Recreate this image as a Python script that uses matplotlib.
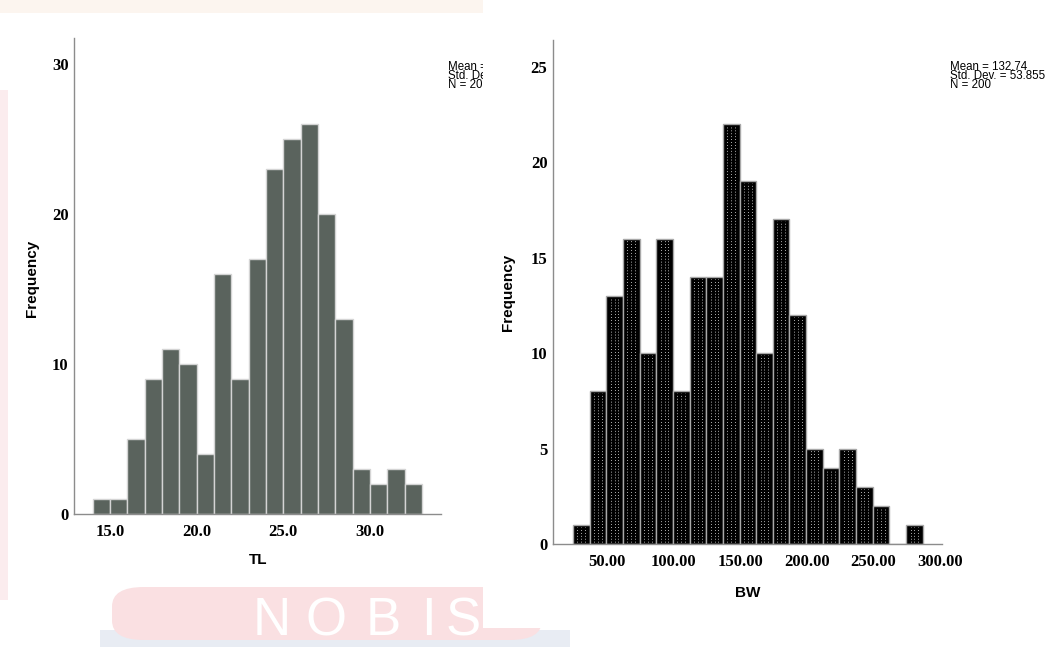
import numpy as np
import matplotlib.pyplot as plt
from matplotlib.patches import Rectangle, FancyBboxPatch

# TL histogram (bin width 1.0 starting at 14)
tl_edges = np.arange(14.0, 33.5, 1.0)
tl_counts = [1, 1, 5, 9, 11, 10, 4, 16, 9, 17, 23, 25, 26, 20, 13, 3, 2, 3, 2]
tl_ticks = [15.0, 20.0, 25.0, 30.0]
tl_yticks = [0, 10, 20, 30]

# BW histogram (bin width 12.5 starting at 24.5)
bw_edges = np.arange(24.5, 288.0, 12.5)
bw_counts = [1, 8, 13, 16, 10, 16, 8, 14, 14, 22, 19, 10, 17, 12, 5, 4, 5, 3, 2, 0, 1]
bw_ticks = [50, 100, 150, 200, 250, 300]
bw_yticks = [0, 5, 10, 15, 20, 25]

tl_stats = "Mean =\nStd. Dev. =\nN = 200"
bw_stats = "Mean = 132.74\nStd. Dev. = 53.855\nN = 200"

W, H = 1059, 647
fig = plt.figure(figsize=(W / 100, H / 100), dpi=100)
fig.patch.set_facecolor('white')

def fx(px):
    return px / W

def fy(py):
    return 1 - py / H

# faint watermark behind the two screenshots
fig.patches.append(Rectangle((0, fy(13)), fx(483), fy(0) - fy(13), transform=fig.transFigure,
                             facecolor='#fcf5ef', edgecolor='none', zorder=-3))
fig.patches.append(Rectangle((0, fy(600)), fx(8), fy(90) - fy(600), transform=fig.transFigure,
                             facecolor='#fbecee', edgecolor='none', zorder=-3))
fig.patches.append(Rectangle((fx(100), 0), fx(470), fy(630), transform=fig.transFigure,
                             facecolor='#e8ecf3', edgecolor='none', zorder=-3))
fig.patches.append(FancyBboxPatch((fx(112), fy(640)), fx(430), fy(587) - fy(640),
                                  boxstyle='round,pad=0,rounding_size=0.03',
                                  transform=fig.transFigure, facecolor='#fae0e2',
                                  edgecolor='none', zorder=-2.9))
for ch, px in zip("NOBIS", [253, 306, 366, 421, 446]):
    fig.text(fx(px), fy(635), ch, color='white', fontsize=38, family='Liberation Sans',
             ha='left', va='baseline', zorder=-2.8)

# white panel of the right screenshot
fig.patches.append(Rectangle((fx(483), fy(628)), 1 - fx(483), fy(0) - fy(628),
                             transform=fig.transFigure, facecolor='white',
                             edgecolor='none', zorder=-1))

tick_font = dict(family='Liberation Serif', weight='bold', size=12)
label_font = dict(family='Liberation Sans', weight='bold', size=11)

def style(ax):
    ax.set_facecolor('none')
    for s in ['top', 'right']:
        ax.spines[s].set_visible(False)
    for s in ['left', 'bottom']:
        ax.spines[s].set_color('#8c8c8c')
        ax.spines[s].set_linewidth(1.0)
    ax.tick_params(length=0)
    ax.tick_params(axis='x', pad=7)
    ax.tick_params(axis='y', pad=4)

# left: TL
ax1 = fig.add_axes([fx(74), fy(514), fx(440.7) - fx(74), fy(38) - fy(514)])
ax1.bar(tl_edges[:-1], tl_counts, width=np.diff(tl_edges), align='edge',
        color='#5a635d', edgecolor='#d4d4d4', linewidth=1.0)
ax1.set_xlim(12.92, 34.08)
ax1.set_ylim(0, 31.7)
ax1.set_xticks(tl_ticks)
ax1.set_xticklabels([f"{t:.1f}" for t in tl_ticks], fontdict=tick_font)
ax1.set_yticks(tl_yticks)
ax1.set_yticklabels([str(t) for t in tl_yticks], fontdict=tick_font)
style(ax1)
ax1.set_xlabel('TL', fontdict=label_font)
ax1.set_ylabel('Frequency', fontdict=label_font)
ax1.xaxis.set_label_coords(0.502, -0.082)
ax1.yaxis.set_label_coords(-0.095, 0.496)

# right: BW, black bars with white dotted columns
ax2 = fig.add_axes([fx(553), fy(544), fx(942) - fx(553), fy(40) - fy(544)])
bw_left = bw_edges[:-1]
bw_width = np.diff(bw_edges)
bw_arr = np.array(bw_counts)
ax2.bar(bw_left, bw_counts, width=bw_width, align='edge',
        color='black', edgecolor='#a8a8a8', linewidth=1.0)
for frac in [0.27, 0.5, 0.73]:
    xs = bw_left + bw_width * frac
    ax2.vlines(xs[bw_arr > 0], 0.1, bw_arr[bw_arr > 0] - 0.1,
               colors='#d8d8d8', linewidth=0.7, linestyles=(0, (0.8, 2.2)))
ax2.set_xlim(9.6, 301.4)
ax2.set_ylim(0, 26.4)
ax2.set_xticks(bw_ticks)
ax2.set_xticklabels([f"{t:.2f}" for t in bw_ticks], fontdict=tick_font)
ax2.set_yticks(bw_yticks)
ax2.set_yticklabels([str(t) for t in bw_yticks], fontdict=tick_font)
style(ax2)
ax2.set_xlabel('BW', fontdict=label_font)
ax2.set_ylabel('Frequency', fontdict=label_font)
ax2.xaxis.set_label_coords(0.501, -0.084)
ax2.yaxis.set_label_coords(-0.098, 0.5)

# statistics boxes (left one is cut by the right screenshot)
fig.text(fx(448), fy(61), tl_stats, fontsize=8.3, family='Liberation Sans',
         va='top', ha='left', linespacing=0.64, zorder=-2)
fig.text(fx(950), fy(61), bw_stats, fontsize=8.3, family='Liberation Sans',
         va='top', ha='left', linespacing=0.64)

fig.savefig('out.png', dpi=100)
